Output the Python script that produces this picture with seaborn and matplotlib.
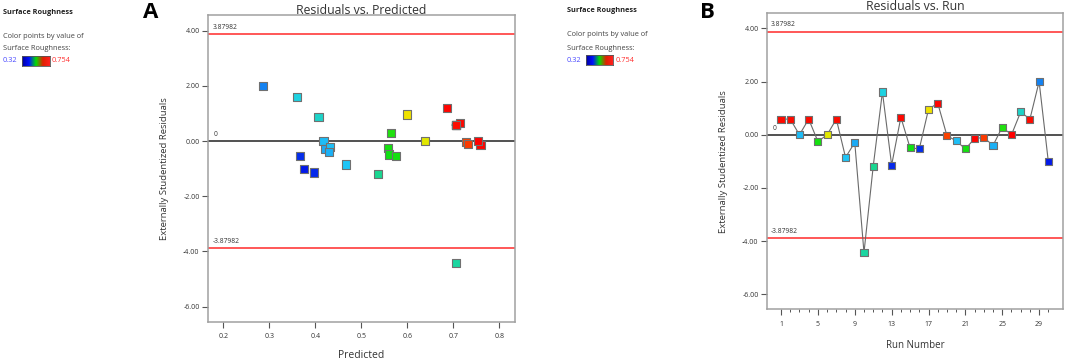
import numpy as np
import pandas as pd
import matplotlib
matplotlib.use("Agg")
import matplotlib.pyplot as plt
from matplotlib.colors import LinearSegmentedColormap, Normalize
import seaborn as sns

# ---------------- data ----------------
run_number = list(range(1, 31))
residuals = [0.59, 0.59, 0.00, 0.59, -0.25, 0.00, 0.59, -0.85, -0.29, -4.43,
             -1.19, 1.61, -1.14, 0.66, -0.49, -0.53, 0.96, 1.19, -0.03, -0.23,
             -0.53, -0.14, -0.10, -0.40, 0.29, 0.00, 0.86, 0.59, 2.00, -1.01]
predicted = [0.705, 0.705, 0.418, 0.705, 0.559, 0.638, 0.705, 0.466, 0.4215, 0.705,
             0.537, 0.361, 0.398, 0.714, 0.560, 0.366, 0.600, 0.687, 0.728, 0.432,
             0.575, 0.759, 0.732, 0.4295, 0.565, 0.753, 0.407, 0.705, 0.286, 0.376]
roughness = [0.748, 0.748, 0.418, 0.748, 0.540, 0.638, 0.748, 0.423, 0.407, 0.470,
             0.477, 0.440, 0.335, 0.750, 0.536, 0.338, 0.648, 0.752, 0.722, 0.420,
             0.540, 0.751, 0.726, 0.410, 0.545, 0.753, 0.452, 0.748, 0.386, 0.326]
limit = 3.87982
color_min, color_max = 0.32, 0.754
a_xticks = [0.2, 0.3, 0.4, 0.5, 0.6, 0.7, 0.8]
y_ticks = [4, 2, 0, -2, -4, -6]
b_major_ticks = [1, 5, 9, 13, 17, 21, 25, 29]

df = pd.DataFrame({"run": run_number, "res": residuals, "pred": predicted, "rough": roughness})

# ---------------- style ----------------
sns.set_theme(style="white")
plt.rcParams["font.family"] = ["Open Sans", "DejaVu Sans"]
cmap = LinearSegmentedColormap.from_list(
    "de", ["#0010e8", "#20d0f8", "#10e010", "#f0e800", "#ff0000"])
norm = Normalize(color_min, color_max)
FRAME = "#a0a0a0"
TXT = "#333333"

fig = plt.figure(figsize=(10.65, 3.63), dpi=100)
axA = fig.add_axes([0.1953, 0.1138, 0.2883, 0.845])
axB = fig.add_axes([0.7202, 0.1488, 0.278, 0.8146])


def style_axis(ax):
    for s in ax.spines.values():
        s.set_color(FRAME)
        s.set_linewidth(1.1)
    ax.tick_params(axis="both", which="major", direction="out", length=4.5, width=0.8,
                   color="#555555", labelsize=5, labelcolor=TXT, pad=1.5,
                   left=True, bottom=True)
    ax.set_yticks(y_ticks)
    ax.set_yticklabels([f"{v:.2f}" for v in y_ticks])
    ax.set_ylim(-6.55, 4.57)
    ax.axhline(limit, color="#ff2a2a", lw=1.1, zorder=1)
    ax.axhline(-limit, color="#ff2a2a", lw=1.1, zorder=1)
    ax.axhline(0, color="#222222", lw=1.1, zorder=1)
    ax.set_ylabel("Externally Studentized Residuals", fontsize=6.8, color=TXT, labelpad=10)


# ---------------- panel A ----------------
sns.scatterplot(data=df, x="pred", y="res", hue="rough", palette=cmap, hue_norm=norm,
                marker="s", s=34, edgecolor="#707070", linewidth=0.8, legend=False,
                ax=axA, zorder=3)
style_axis(axA)
axA.set_xlim(0.167, 0.834)
axA.set_xticks(a_xticks)
axA.set_xticklabels([f"{v:.1f}" for v in a_xticks])
axA.tick_params(axis="x", pad=4)
axA.set_xlabel("Predicted", fontsize=7.5, color=TXT, labelpad=7)
axA.set_title("Residuals vs. Predicted", fontsize=8.8, color=TXT, pad=1)
tA = axA.get_yaxis_transform()
axA.text(0.015, limit + 0.12, f"{limit:.5f}", transform=tA, fontsize=4.8, color=TXT, va="bottom")
axA.text(0.015, -limit + 0.12, f"-{limit:.5f}", transform=tA, fontsize=4.8, color=TXT, va="bottom")
axA.text(0.018, 0.12, "0", transform=tA, fontsize=4.8, color=TXT, va="bottom")
axA.text(0.700, 0.59, "4", fontsize=3, color="#555555", ha="right", va="center")

# ---------------- panel B ----------------
sns.lineplot(data=df, x="run", y="res", color="#6a6a6a", lw=0.8, ax=axB, zorder=2)
sns.scatterplot(data=df, x="run", y="res", hue="rough", palette=cmap, hue_norm=norm,
                marker="s", s=26, edgecolor="#707070", linewidth=0.8, legend=False,
                ax=axB, zorder=3)
style_axis(axB)
axB.set_xlim(-0.52, 31.6)
axB.set_xticks(b_major_ticks)
axB.set_xticks(run_number, minor=True)
axB.tick_params(axis="x", which="minor", direction="out", length=2.5, width=0.7,
                color="#555555", bottom=True)
axB.tick_params(axis="x", pad=4)
axB.set_xlabel("Run Number", fontsize=7, color=TXT, labelpad=9)
axB.set_title("Residuals vs. Run", fontsize=8.8, color=TXT, pad=1)
tB = axB.get_yaxis_transform()
axB.text(0.012, limit + 0.12, f"{limit:.5f}", transform=tB, fontsize=4.8, color=TXT, va="bottom")
axB.text(0.012, -limit + 0.12, f"-{limit:.5f}", transform=tB, fontsize=4.8, color=TXT, va="bottom")
axB.text(0.018, 0.12, "0", transform=tB, fontsize=4.8, color=TXT, va="bottom")

# ---------------- panel letters ----------------
fig.text(143 / 1065, 1 - 12 / 363, "A", fontsize=16, fontweight="bold", color="black", va="center")
fig.text(700 / 1065, 1 - 12 / 363, "B", fontsize=16, fontweight="bold", color="black", va="center")


# ---------------- colour legends ----------------
def color_legend(x0, y0, bar_x0, bar_x1, hi_x):
    W, H = 1065, 363
    fig.text(x0 / W, 1 - y0 / H, "Surface Roughness", fontsize=5.3, fontweight="bold",
             color="#222222", va="center")
    fig.text(x0 / W, 1 - (y0 + 24) / H, "Color points by value of", fontsize=5.3,
             color="#444444", va="center")
    fig.text(x0 / W, 1 - (y0 + 37) / H, "Surface Roughness:", fontsize=5.3,
             color="#444444", va="center")
    fig.text(x0 / W, 1 - (y0 + 49) / H, f"{color_min:g}", fontsize=5.3,
             color="#4a4aff", va="center")
    fig.text(hi_x / W, 1 - (y0 + 49) / H, f"{color_max:g}", fontsize=5.3,
             color="#ff3030", va="center")
    cax = fig.add_axes([bar_x0 / W, 1 - (y0 + 54) / H, (bar_x1 - bar_x0) / W, 10 / H])
    cax.imshow(np.linspace(0, 1, 64)[None, :], aspect="auto",
               cmap=LinearSegmentedColormap.from_list("bar", ["#0000a0", "#0010ff", "#00e000", "#e02000", "#ff2020"]))
    cax.set_xticks([])
    cax.set_yticks([])
    for s in cax.spines.values():
        s.set_color("#555555")
        s.set_linewidth(0.6)


color_legend(3, 12, 22, 50, 52)
color_legend(567, 11, 586, 613, 616)

fig.savefig("out.png", dpi=100)
